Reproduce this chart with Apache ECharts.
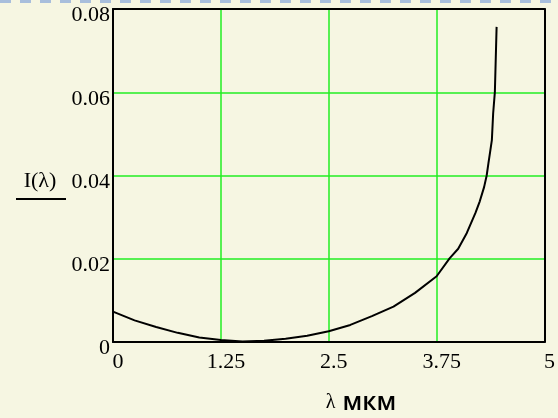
<!DOCTYPE html>
<html>
<head>
<meta charset="utf-8">
<script src="https://cdn.jsdelivr.net/npm/echarts@6/dist/echarts.min.js"></script>
<style>
html,body{margin:0;padding:0;background:#f6f6e2;}
#c{width:558px;height:418px;}
</style>
</head>
<body>
<div id="c"></div>
<script>
// wavelength, μm
var lambdaValues = [0, 0.25, 0.5, 0.75, 1.0, 1.25, 1.5, 1.75, 2.0, 2.25, 2.5, 2.75, 3.0, 3.25, 3.5, 3.75, 3.9, 4.0, 4.1, 4.2, 4.25, 4.3, 4.33, 4.35, 4.37, 4.39, 4.405, 4.425, 4.445];
// intensity I(λ)
var intensityValues = [0.0073, 0.0052, 0.0036, 0.0022, 0.0011, 0.0005, 0.0001, 0.0003, 0.0008, 0.0015, 0.0026, 0.0041, 0.0062, 0.0085, 0.0118, 0.0158, 0.0201, 0.0224, 0.0262, 0.0310, 0.0338, 0.0372, 0.0400, 0.0429, 0.0457, 0.0485, 0.0549, 0.0601, 0.0757];
var xTicks = [0, 1.25, 2.5, 3.75, 5];
var yTicks = [0, 0.02, 0.04, 0.06, 0.08];

var data = lambdaValues.map(function (x, i) { return [x, intensityValues[i]]; });

var chart = echarts.init(document.getElementById('c'), null, {renderer: 'canvas'});
var serif = "'Liberation Serif', 'Times New Roman', serif";
var sans = "'Open Sans', 'Liberation Sans', sans-serif";
chart.setOption({
  backgroundColor: '#f6f6e2',
  animation: false,
  grid: {left: 113, right: 13, top: 9, bottom: 76, show: false},
  xAxis: [{
    type: 'value', min: xTicks[0], max: xTicks[xTicks.length - 1], interval: xTicks[1] - xTicks[0],
    axisLine: {show: true, onZero: false, lineStyle: {color: '#000', width: 2}}, axisTick: {show: false},
    splitLine: {show: true, showMinLine: false, showMaxLine: false, lineStyle: {color: '#22ee22', width: 1.5}},
    axisLabel: {color: '#000', fontFamily: serif, fontSize: 22, margin: 9, padding: [0, 0, 0, 10],
      formatter: function (v) { return String(+v.toFixed(2)); }}
  }, {
    type: 'value', position: 'top', min: xTicks[0], max: xTicks[xTicks.length - 1], interval: xTicks[1] - xTicks[0],
    axisLine: {show: true, onZero: false, lineStyle: {color: '#000', width: 2}}, axisTick: {show: false},
    axisLabel: {show: false}, splitLine: {show: false}
  }],
  yAxis: [{
    type: 'value', min: yTicks[0], max: yTicks[yTicks.length - 1], interval: yTicks[1] - yTicks[0],
    axisLine: {show: true, onZero: false, lineStyle: {color: '#000', width: 2}}, axisTick: {show: false},
    splitLine: {show: true, showMinLine: false, showMaxLine: false, lineStyle: {color: '#22ee22', width: 1.5}},
    axisLabel: {color: '#000', fontFamily: serif, fontSize: 22, margin: 3, verticalAlign: 'top', lineHeight: 13,
      formatter: function (v) { return String(+v.toFixed(2)); }}
  }, {
    type: 'value', position: 'right', min: yTicks[0], max: yTicks[yTicks.length - 1], interval: yTicks[1] - yTicks[0],
    axisLine: {show: true, onZero: false, lineStyle: {color: '#000', width: 2}}, axisTick: {show: false},
    axisLabel: {show: false}, splitLine: {show: false}
  }],
  series: [{
    type: 'line', data: data, symbol: 'none', smooth: false, z: 3,
    lineStyle: {color: '#000', width: 2}
  }],
  graphic: [
    {type: 'line', shape: {x1: 0, y1: 1.5, x2: 558, y2: 1.5}, style: {stroke: '#a8bedc', lineWidth: 3, lineDash: [11, 9]}},
    {type: 'text', x: 40, y: 181, style: {text: 'I(λ)', fontFamily: serif, fontSize: 22, fill: '#000', align: 'center', verticalAlign: 'middle'}},
    {type: 'line', shape: {x1: 16, y1: 199, x2: 66, y2: 199}, style: {stroke: '#000', lineWidth: 2}},
    {type: 'text', x: 361, y: 403, style: {
      text: '{a|λ}{b|мкм}', align: 'center', verticalAlign: 'middle',
      rich: {
        a: {fontFamily: serif, fontSize: 20, fill: '#000', padding: [0, 7, 0, 0]},
        b: {fontFamily: sans, fontSize: 25, fontWeight: 600, fill: '#000'}
      }
    }}
  ]
});
</script>
</body>
</html>
